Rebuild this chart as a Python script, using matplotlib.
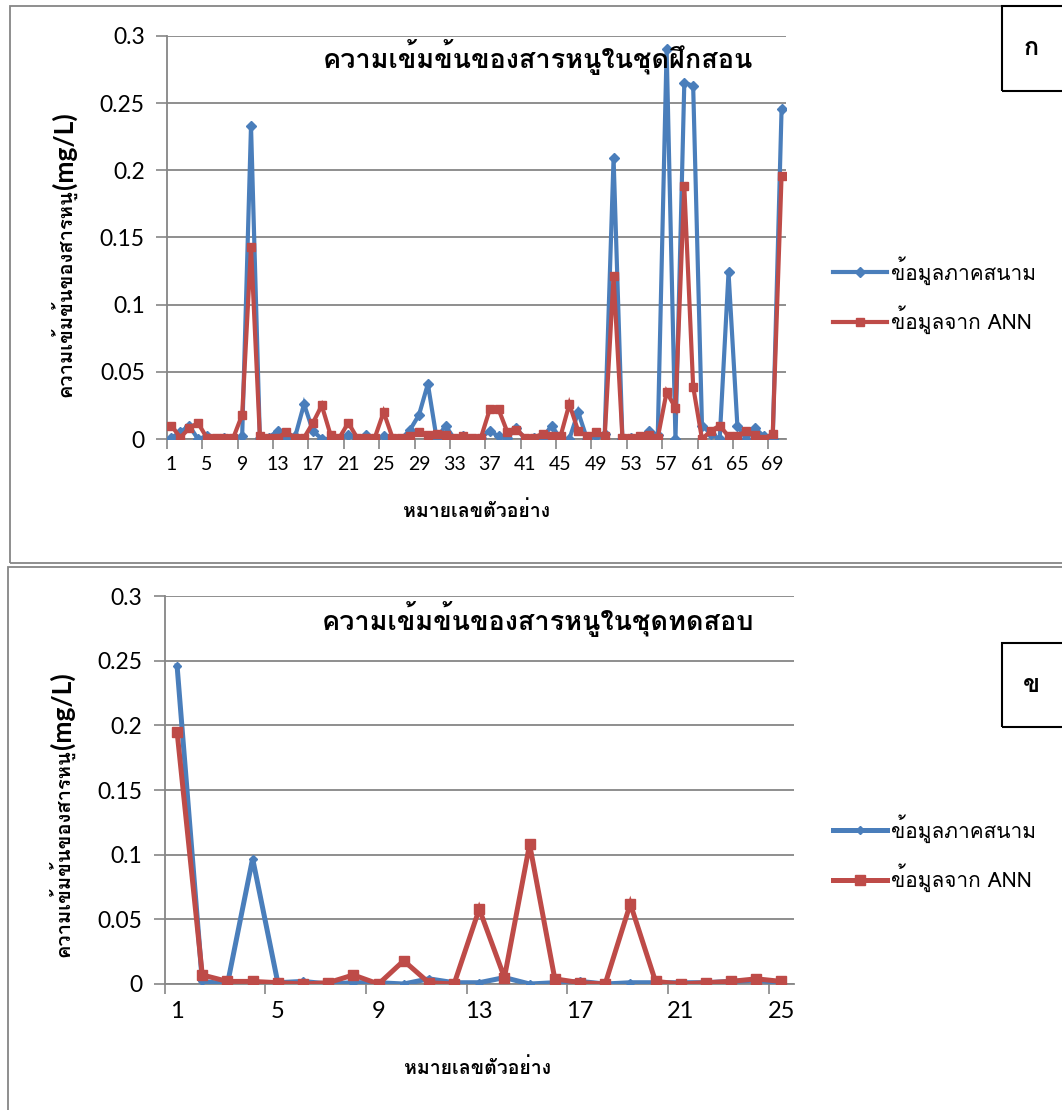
import matplotlib
matplotlib.use('Agg')
import matplotlib.pyplot as plt
from matplotlib import font_manager
from matplotlib.ft2font import FT2Font
from matplotlib.patches import Rectangle

# DATA - training set (70 samples) and test set (25 samples)
train_field = [0.001, 0.005, 0.010, 0.000, 0.002, 0.000, 0.001, 0.000, 0.002, 0.233,
               0.001, 0.001, 0.006, 0.001, 0.002, 0.026, 0.006, 0.000, 0.000, 0.000,
               0.003, 0.000, 0.003, 0.000, 0.002, 0.000, 0.000, 0.007, 0.018, 0.041,
               0.000, 0.010, 0.000, 0.002, 0.000, 0.001, 0.006, 0.002, 0.001, 0.008,
               0.000, 0.001, 0.001, 0.010, 0.000, 0.000, 0.020, 0.000, 0.002, 0.004,
               0.209, 0.000, 0.001, 0.001, 0.006, 0.003, 0.290, 0.000, 0.265, 0.263,
               0.010, 0.004, 0.000, 0.124, 0.010, 0.000, 0.008, 0.002, 0.000, 0.246]
train_ann = [0.010, 0.001, 0.008, 0.012, 0.001, 0.001, 0.001, 0.001, 0.018, 0.143,
             0.002, 0.001, 0.001, 0.005, 0.001, 0.001, 0.012, 0.025, 0.003, 0.001,
             0.012, 0.001, 0.001, 0.001, 0.020, 0.001, 0.001, 0.002, 0.005, 0.003,
             0.004, 0.003, 0.001, 0.002, 0.001, 0.001, 0.022, 0.022, 0.005, 0.007,
             0.001, 0.001, 0.004, 0.002, 0.002, 0.026, 0.006, 0.002, 0.005, 0.002,
             0.121, 0.001, 0.001, 0.002, 0.003, 0.001, 0.035, 0.023, 0.188, 0.039,
             0.000, 0.006, 0.010, 0.002, 0.002, 0.006, 0.003, 0.000, 0.004, 0.196]
test_field = [0.246, 0.002, 0.000, 0.097, 0.001, 0.002, 0.000, 0.001, 0.001, 0.000,
              0.004, 0.001, 0.001, 0.005, 0.000, 0.001, 0.002, 0.000, 0.001, 0.001,
              0.001, 0.001, 0.002, 0.003, 0.001]
test_ann = [0.195, 0.007, 0.002, 0.002, 0.001, 0.000, 0.001, 0.007, 0.000, 0.018,
            0.001, 0.000, 0.058, 0.005, 0.108, 0.004, 0.001, 0.000, 0.062, 0.002,
            0.000, 0.001, 0.002, 0.004, 0.002]

title_train = "ความเข้มข้นของสารหนูในชุดฝึกสอน"
title_test = "ความเข้มข้นของสารหนูในชุดทดสอบ"
ylabel_thai = "ความเข้มข้นของสารหนู"
ylabel_unit = "(mg/L)"
xlabel = "หมายเลขตัวอย่าง"
label_field = "ข้อมูลภาคสนาม"
label_ann = "ข้อมูลจาก ANN"
yticks = [0, 0.05, 0.1, 0.15, 0.2, 0.25, 0.3]
ytick_labels = ["0", "0.05", "0.1", "0.15", "0.2", "0.25", "0.3"]

BLUE = "#4A7EBB"
RED = "#BE4B48"
GRID = "#868686"


#FIND A FONT WITH THAI GLYPHS
def thai_font():
    found = []
    for f in font_manager.fontManager.ttflist:
        try:
            if 0x0E01 in FT2Font(f.fname).get_charmap():
                found.append(f.name)
        except Exception:
            pass
    for pref in ["TH Sarabun New", "Angsana New", "Garuda", "Loma", "Norasi",
                 "Noto Serif Thai", "Noto Sans Thai", "DejaVu Sans"]:
        if pref in found:
            return pref
    if found:
        return found[0]
    return "DejaVu Sans"


THAI = thai_font()
LATIN = "Lato"
plt.rcParams['font.family'] = [THAI, 'DejaVu Sans']

W, H = 1062, 1110
fig = plt.figure(figsize=(W / 100, H / 100), dpi=100)


def fx(x):
    return x / W


def fy(y):
    return 1 - y / H


def axes_px(left, top, right, bottom):
    return fig.add_axes([fx(left), fy(bottom), (right - left) / W, (bottom - top) / H])


def draw_panel(ax, field, ann, step_ticks, lw, ms_blue, ms_red, xtick_size):
    n = len(field)
    x = list(range(1, n + 1))
    ax.plot(x, field, color=BLUE, lw=lw, marker="D", ms=ms_blue, mec=BLUE, mfc=BLUE,
            solid_joinstyle="miter", zorder=3, label=label_field)
    ax.plot(x, ann, color=RED, lw=lw, marker="s", ms=ms_red, mec=RED, mfc=RED,
            solid_joinstyle="miter", zorder=4, label=label_ann)
    ax.set_xlim(0.5, n + 0.5)
    ax.set_ylim(0, 0.3)
    ax.set_yticks(yticks)
    ax.set_yticklabels(ytick_labels, family=LATIN, fontsize=16.5)
    ax.set_xticks(x[::step_ticks])
    ax.set_xticklabels([str(v) for v in x[::step_ticks]], family=LATIN, fontsize=xtick_size)
    ax.set_xticks([v - 0.5 for v in range(1, n + 2, step_ticks)], minor=True)
    ax.tick_params(axis="x", which="major", length=0, pad=12)
    ax.tick_params(axis="x", which="minor", length=7, width=1.2, color=GRID, direction="out")
    ax.tick_params(axis="y", length=8, width=1.2, color=GRID, direction="out", pad=8)
    ax.yaxis.grid(True, color=GRID, lw=1.3)
    ax.set_axisbelow(True)
    for s in ["top", "right"]:
        ax.spines[s].set_visible(False)
    for s in ["left", "bottom"]:
        ax.spines[s].set_color(GRID)
        ax.spines[s].set_linewidth(1.3)
    ax.patch.set_alpha(0)


def y_label(x, split_y):
    # thai part below, unit part above, joined at split_y
    fig.text(fx(x), fy(split_y), ylabel_thai, rotation=90, ha="center", va="top",
             fontsize=14.5, fontweight="bold")
    fig.text(fx(x + 1), fy(split_y), ylabel_unit, rotation=90, ha="center", va="bottom",
             family=LATIN, fontsize=19, fontweight="bold")


#PANEL FRAMES
fig.patches.append(Rectangle((fx(10), fy(563)), 2, fy(6) - fy(563), transform=fig.transFigure,
                             fill=False, ec=GRID, lw=1.3))
fig.patches.append(Rectangle((fx(7.5), fy(1200)), 2, fy(567) - fy(1200), transform=fig.transFigure,
                             fill=False, ec=GRID, lw=1.3))

#TOP CHART
ax1 = axes_px(167, 36, 786, 439)
draw_panel(ax1, train_field, train_ann, 4, 3.0, 5.5, 6, 14)
fig.text(fx(538), fy(57), title_train, ha="center", va="center", fontsize=19.5, fontweight="bold")
y_label(63, 189)
fig.text(fx(477), fy(511), xlabel, ha="center", va="center", fontsize=14, fontweight="bold")

#BOTTOM CHART
ax2 = axes_px(164.5, 596, 794, 984)
draw_panel(ax2, test_field, test_ann, 4, 3.6, 4, 7, 17)
fig.text(fx(538), fy(619), title_test, ha="center", va="center", fontsize=19.5, fontweight="bold")
y_label(61, 749)
fig.text(fx(478), fy(1068), xlabel, ha="center", va="center", fontsize=14, fontweight="bold")

#LEGENDS
for ax, ytop in [(ax1, 276), (ax2, 834)]:
    h, l = ax.get_legend_handles_labels()
    fig.legend(h, l, loc="upper left", bbox_to_anchor=(fx(833), fy(ytop - 20)), frameon=False,
               fontsize=15, handlelength=2.6, handletextpad=0.2, labelspacing=1.0, borderpad=0,
               borderaxespad=0)

#LABEL BOXES
for y0, y1, ch in [(6, 91, "ก"), (643, 727, "ข")]:
    fig.patches.append(Rectangle((fx(1002), fy(y1)), 0.2, fy(y0) - fy(y1), transform=fig.transFigure,
                                 fill=False, ec="black", lw=1.5))
    fig.text(fx(1031), fy((y0 + y1) / 2), ch, ha="center", va="center", fontsize=18, fontweight="bold")

plt.savefig("out.png", dpi=100)
